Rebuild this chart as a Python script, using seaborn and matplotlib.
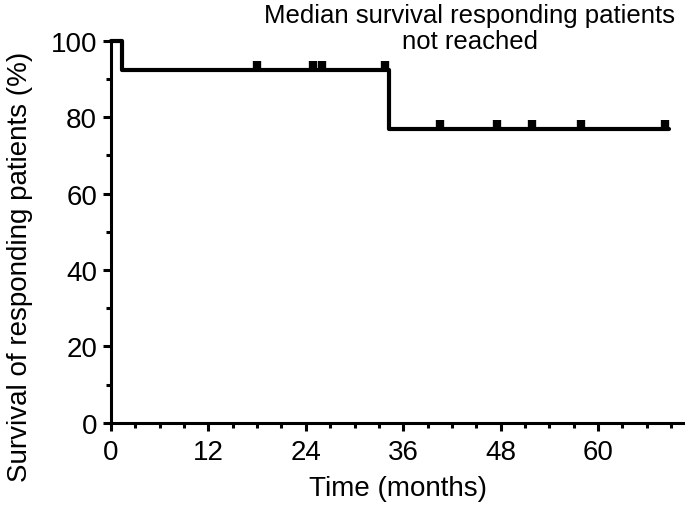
import matplotlib
matplotlib.use("Agg")
import matplotlib.pyplot as plt
import seaborn as sns
import pandas as pd
from matplotlib.ticker import MultipleLocator

# Kaplan-Meier step data
step_time = [0, 1.4, 34.3, 68.7]
step_surv = [100, 92.3, 76.9, 76.9]
# censored observations
cens_time = [18.0, 24.9, 26.0, 33.8, 40.5, 47.6, 51.9, 57.9, 68.2]
cens_surv = [92.3, 92.3, 92.3, 92.3, 76.9, 76.9, 76.9, 76.9, 76.9]

x_ticks = [0, 12, 24, 36, 48, 60]
y_ticks = [0, 20, 40, 60, 80, 100]

sns.set_theme(style="ticks")
plt.rcParams['font.family'] = ['Liberation Sans', 'DejaVu Sans']

fig = plt.figure(figsize=(6.85, 5.10), dpi=100)
ax = fig.add_axes([0.162, 0.169, 0.838, 0.749])

steps = pd.DataFrame({"t": step_time, "s": step_surv})
cens = pd.DataFrame({"t": cens_time, "s": cens_surv})

sns.lineplot(data=steps, x="t", y="s", drawstyle="steps-post", color="black",
             linewidth=3, estimator=None, ax=ax, clip_on=False)
sns.scatterplot(data=cens, x="t", y="s", marker=2, s=40, linewidth=6,
                color="black", ax=ax, clip_on=False, zorder=3)

ax.set_xlim(0, 70.7)
ax.set_ylim(0, 100)
ax.set_xticks(x_ticks)
ax.set_yticks(y_ticks)
ax.xaxis.set_minor_locator(MultipleLocator(3))
ax.yaxis.set_minor_locator(MultipleLocator(10))
ax.tick_params(axis="both", which="major", length=6, width=2.2, labelsize=20,
               color="black", labelcolor="black", pad=4)
ax.tick_params(axis="x", which="major", pad=6)
ax.tick_params(axis="both", which="minor", length=3.5, width=2.2, color="black")
for side in ["top", "right"]:
    ax.spines[side].set_visible(False)
for side in ["left", "bottom"]:
    ax.spines[side].set_linewidth(2.2)
    ax.spines[side].set_color("black")

ax.set_xlabel("Time (months)", fontsize=20, color="black", labelpad=7)
ax.set_ylabel("Survival of responding patients (%)", fontsize=20, color="black",
              labelpad=13, y=0.41)

fig.text(0.686, 0.944, "Median survival responding patients\nnot reached",
         ha="center", va="center", fontsize=18.5, color="black", linespacing=1.1)

fig.savefig("out.png", dpi=100)
